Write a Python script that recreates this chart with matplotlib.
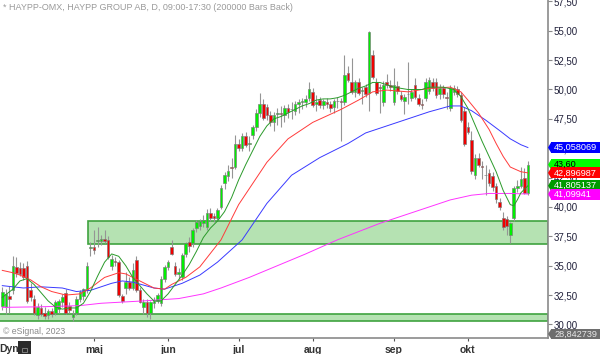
import numpy as np
import matplotlib
matplotlib.use("Agg")
import matplotlib.pyplot as plt
from matplotlib.patches import Rectangle, Polygon
from matplotlib.transforms import blended_transform_factory

plt.rcParams['font.family'] = ['Liberation Sans', 'DejaVu Sans']

# daily bars, late March -> 25 Oct 2023 (bar index 0..149)
opens = [31.6, 31.5, 32.4, 32.9, 34.9, 34.8, 34.8, 35.0, 32.9, 32.2,
         30.8, 31.4, 31.0, 30.8, 31.1, 31.0, 31.3, 31.9, 32.7, 31.6,
         30.6, 31.0, 32.2, 32.4, 32.9, 36.5, 36.6, 37.1, 37.1, 37.3,
         37.2, 35.0, 35.4, 35.3, 32.4, 33.1, 33.6, 33.1, 35.5, 32.9,
         31.5, 31.9, 31.0, 31.8, 32.0, 31.8, 33.9, 34.9, 36.6, 35.0,
         34.3, 34.0, 36.0, 37.0, 36.9, 38.2, 38.4, 38.6, 38.3, 39.5,
         39.2, 39.1, 40.0, 42.0, 42.6, 43.4, 43.4, 45.4, 45.0, 46.0,
         45.4, 46.1, 46.8, 48.0, 48.8, 48.5, 47.8, 47.2, 47.9, 48.0,
         47.8, 48.4, 48.3, 48.2, 48.8, 48.9, 48.9, 49.3, 49.8, 48.8,
         49.1, 48.7, 48.9, 48.8, 48.5, 49.0, 49.0, 48.9, 51.4, 50.6,
         49.8, 50.6, 49.9, 50.2, 49.7, 52.9, 50.6, 50.2, 48.9, 50.6,
         50.4, 48.9, 50.3, 49.5, 49.0, 49.6, 49.3, 50.4, 49.3, 48.8,
         49.3, 49.9, 50.6, 50.6, 49.6, 50.1, 49.4, 48.4, 49.8, 50.0,
         49.5, 48.2, 46.8, 45.7, 42.7, 44.2, 43.5, 42.7, 42.9, 42.6,
         41.8, 40.4, 39.1, 39.0, 37.6, 39.1, 41.6, 41.8, 42.5, 41.2]
highs = [33.2, 33.0, 33.3, 35.8, 35.7, 35.3, 35.2, 35.4, 33.5, 32.5,
         31.8, 31.7, 31.5, 31.3, 31.4, 32.1, 32.2, 32.6, 33.0, 31.9,
         31.2, 32.4, 32.9, 33.1, 35.3, 37.0, 38.0, 38.3, 37.6, 38.0,
         37.5, 35.9, 35.7, 35.5, 32.6, 34.5, 34.0, 35.2, 35.8, 33.2,
         32.2, 32.2, 32.0, 32.3, 32.7, 34.1, 35.1, 35.5, 37.2, 35.3,
         34.8, 36.1, 37.0, 37.4, 38.2, 38.9, 39.0, 39.3, 39.8, 39.9,
         39.5, 39.9, 41.9, 43.0, 43.6, 44.2, 46.1, 45.8, 46.3, 46.4,
         46.0, 47.0, 48.3, 49.7, 49.2, 48.8, 48.2, 48.1, 48.4, 48.6,
         48.7, 48.8, 48.9, 49.0, 49.2, 49.3, 49.5, 50.6, 50.1, 49.5,
         49.4, 49.2, 49.3, 49.0, 49.2, 49.4, 49.3, 52.9, 52.0, 52.7,
         50.8, 51.0, 50.2, 50.5, 55.0, 53.4, 51.0, 50.5, 50.7, 51.3,
         50.8, 51.8, 50.7, 49.9, 49.6, 52.3, 50.0, 51.0, 49.6, 49.2,
         51.0, 51.1, 51.0, 51.0, 50.5, 50.4, 49.8, 50.4, 50.4, 50.3,
         49.8, 48.5, 47.2, 46.5, 44.5, 44.6, 43.9, 43.6, 43.2, 43.0,
         42.0, 40.8, 39.6, 39.2, 38.7, 41.8, 42.3, 43.4, 43.3, 43.9]
lows = [31.2, 30.9, 31.0, 32.6, 34.0, 34.1, 33.8, 31.8, 32.0, 30.8,
        30.5, 30.7, 30.5, 30.5, 30.6, 30.8, 31.0, 31.5, 30.9, 31.0,
        30.3, 30.8, 31.9, 32.1, 32.7, 35.8, 36.0, 36.6, 36.8, 36.9,
        35.6, 34.6, 35.0, 32.3, 31.8, 32.6, 32.9, 32.9, 32.8, 31.8,
        30.9, 30.6, 30.5, 31.4, 31.8, 31.6, 33.6, 34.6, 35.9, 34.1,
        33.9, 33.8, 35.7, 36.2, 36.6, 37.9, 38.0, 38.3, 38.0, 38.8,
        38.7, 38.9, 39.8, 41.5, 42.2, 42.5, 43.2, 44.8, 44.8, 45.1,
        44.8, 45.8, 46.5, 47.7, 47.4, 47.4, 46.9, 46.5, 47.0, 46.8,
        47.2, 47.6, 47.5, 47.8, 48.0, 48.3, 48.5, 49.0, 48.5, 48.2,
        48.4, 48.3, 48.4, 48.1, 48.0, 48.4, 45.6, 48.7, 50.6, 49.6,
        49.4, 49.5, 48.8, 49.4, 48.2, 50.9, 49.5, 48.0, 48.6, 50.1,
        49.9, 48.7, 49.6, 49.0, 47.9, 48.8, 49.0, 49.2, 48.6, 48.3,
        49.0, 49.6, 49.9, 49.3, 49.2, 49.3, 48.3, 48.2, 49.5, 49.4,
        47.2, 45.2, 46.2, 42.8, 42.4, 43.4, 42.4, 41.0, 41.8, 41.4,
        40.3, 39.7, 38.0, 37.6, 36.9, 38.8, 41.3, 41.6, 41.1, 41.0]
closes = [32.8, 32.6, 32.2, 35.0, 34.4, 34.3, 34.0, 32.0, 32.3, 31.0,
          31.5, 30.9, 30.7, 31.1, 30.9, 31.9, 32.0, 32.3, 31.0, 31.2,
          30.9, 32.2, 32.8, 33.0, 35.0, 36.55, 36.3, 37.2, 37.3, 37.1,
          35.7, 35.6, 35.3, 32.5, 32.0, 33.6, 33.1, 34.6, 32.9, 31.9,
          31.9, 31.0, 31.9, 32.0, 32.5, 33.9, 34.9, 35.3, 36.0, 34.3,
          34.5, 35.9, 36.9, 36.7, 38.0, 38.7, 38.8, 38.9, 39.5, 39.1,
          39.1, 39.7, 41.6, 42.7, 43.1, 43.3, 45.4, 45.0, 46.0, 45.3,
          45.4, 46.8, 48.0, 48.8, 47.6, 47.8, 47.2, 47.8, 48.0, 47.9,
          48.4, 48.1, 48.3, 48.8, 48.9, 49.0, 49.2, 50.0, 48.7, 48.9,
          48.7, 49.0, 48.8, 48.4, 49.0, 49.0, 48.95, 51.2, 50.8, 49.8,
          50.6, 49.7, 49.9, 49.6, 54.9, 51.1, 49.7, 50.1, 50.4, 50.4,
          50.2, 50.4, 49.9, 49.2, 49.4, 49.6, 49.8, 49.4, 48.8, 48.7,
          50.6, 50.8, 50.1, 49.5, 50.1, 49.6, 49.3, 50.1, 50.1, 49.6,
          47.4, 45.4, 46.4, 43.1, 44.2, 43.6, 43.4, 42.7, 42.0, 41.7,
          40.7, 40.0, 38.3, 38.4, 38.6, 41.6, 41.8, 42.4, 41.2, 43.6]

month_pos = [26, 47, 67, 88, 111, 132]
month_labels = ['maj', 'jun', 'jul', 'aug', 'sep', 'okt']

# moving averages (bar index, price)
ma_green_x = [0, 3, 5, 7, 9, 11, 13, 15, 17, 19, 21, 23, 25, 27, 29, 31, 33, 35,
              37, 39, 41, 43, 45, 47, 49, 51, 53, 55, 57, 59, 61, 63, 65, 67, 69,
              71, 73, 75, 77, 79, 81, 83, 85, 87, 89, 91, 93, 95, 97, 99, 101, 103,
              105, 107, 109, 111, 115, 119, 121, 125, 128, 130, 132, 134, 136, 138,
              140, 142, 144, 145, 146, 147, 149]
ma_green_y = [32.3, 33.0, 33.7, 33.9, 33.4, 32.7, 32.0, 31.5, 31.3, 31.4, 31.4, 31.8,
              32.8, 34.1, 35.3, 36.0, 35.8, 35.0, 34.0, 33.3, 32.6, 32.0, 32.0, 32.6,
              33.4, 34.2, 35.1, 36.2, 37.4, 38.2, 38.8, 39.6, 40.8, 42.3, 43.6, 44.8,
              46.0, 46.9, 47.5, 47.7, 48.0, 48.3, 48.6, 48.8, 49.1, 49.2, 49.2, 49.3,
              49.5, 49.8, 50.1, 50.3, 50.6, 50.6, 50.4, 50.2, 50.0, 50.0, 50.2, 50.2,
              50.0, 49.4, 48.4, 47.0, 45.6, 44.3, 43.0, 41.4, 40.2, 40.1, 40.6, 41.2,
              41.8]
ma_red_x = [0, 3, 5, 8, 11, 14, 18, 22, 25, 29, 33, 35, 39, 43, 46, 48, 52, 56, 62,
            67, 75, 81, 88, 96, 101, 105, 109, 115, 121, 127, 130, 132, 135, 138,
            140, 142, 144, 147, 149]
ma_red_y = [34.6, 34.4, 34.2, 33.8, 33.2, 32.8, 32.5, 32.6, 33.1, 34.0, 34.4, 34.3,
            33.7, 33.1, 33.0, 33.4, 34.0, 34.9, 37.2, 40.2, 43.8, 45.8, 47.2, 48.3,
            49.1, 49.8, 49.95, 49.8, 50.1, 50.2, 49.8, 49.1, 48.0, 46.6, 45.4, 44.3,
            43.4, 43.0, 42.9]
ma_blue_x = [0, 6, 11, 17, 21, 25, 31, 34, 37, 43, 46, 51, 56, 61, 68, 75, 82, 90,
             98, 103, 109, 115, 121, 127, 130, 133, 137, 141, 144, 147, 149]
ma_blue_y = [33.3, 33.1, 33.2, 33.1, 32.8, 32.9, 33.5, 33.7, 33.6, 33.1, 33.0, 33.5,
             34.2, 35.3, 37.2, 40.3, 42.7, 44.2, 45.4, 46.3, 46.9, 47.5, 48.1, 48.6,
             48.6, 48.2, 47.4, 46.5, 45.8, 45.3, 45.06]
ma_mag_x = [0, 11, 22, 28, 34, 40, 45, 50, 57, 62, 70, 78, 86, 95, 101, 107, 113,
            120, 127, 133, 138, 144, 149]
ma_mag_y = [31.45, 31.5, 31.6, 31.8, 31.9, 32.0, 32.1, 32.2, 32.6, 33.1, 34.0, 35.0,
            36.0, 37.2, 37.9, 38.6, 39.2, 39.9, 40.6, 41.0, 41.15, 41.15, 41.1]

zone_upper = (36.82, 38.78)
zone_upper_start = 24.3
zone_lower = (30.26, 30.85)

last_texts = ['45,058069', '43,60', '42,896987', '41,805137', '41,09941']
last_values = [45.058069, 43.60, 42.896987, 41.805137, 41.09941]
last_colors = ['#0000ff', '#00ff00', '#ff0000', '#009a00', '#ff00ff']
last_txtcol = ['white', 'black', 'white', 'white', 'white']
bottom_value = 28.842739

ymin, ymax = bottom_value, 57.62
xmin, xmax = -0.65, 154.7

fig = plt.figure(figsize=(6, 3.54), dpi=100)
ax = fig.add_axes([0, 16 / 354, 548 / 600, 338 / 354])
ax.set_xlim(xmin, xmax)
ax.set_ylim(ymin, ymax)

# support / resistance zones
ax.add_patch(Rectangle((zone_upper_start, zone_upper[0]), xmax - zone_upper_start,
                       zone_upper[1] - zone_upper[0], fc='#b5e2b2', ec='#3fa33f', lw=1.2, zorder=1))
ax.add_patch(Rectangle((xmin - 1, zone_lower[0]), xmax - xmin + 1,
                       zone_lower[1] - zone_lower[0], fc='#b5e2b2', ec='#3fa33f', lw=1.2, zorder=1))

# candles
idx = np.arange(len(closes))
o = np.array(opens)
h = np.array(highs)
l = np.array(lows)
c = np.array(closes)
cols = np.where(c >= o, '#00f000', '#f00000')
ax.vlines(idx, l, h, color='#959595', lw=0.8, zorder=2)
ax.bar(idx, np.maximum(np.abs(c - o), 0.05), bottom=np.minimum(o, c), width=0.74,
       color=cols, edgecolor='#7a7a7a', linewidth=0.45, zorder=3)

# moving averages
ax.plot(ma_mag_x, ma_mag_y, color='#ff33ff', lw=0.7, zorder=4)
ax.plot(ma_blue_x, ma_blue_y, color='#3a3aff', lw=0.7, zorder=4)
ax.plot(ma_red_x, ma_red_y, color='#ff3b3b', lw=0.7, zorder=4)
ax.plot(ma_green_x, ma_green_y, color='#2a9a2a', lw=0.7, zorder=4)

# axes styling
for s in ['left', 'top']:
    ax.spines[s].set_visible(False)
for s in ['right', 'bottom']:
    ax.spines[s].set_color('#8a8a8a')
    ax.spines[s].set_linewidth(1.2)
ax.yaxis.tick_right()
yt = np.arange(30, 57.6, 2.5)
ax.set_yticks(yt)
ax.set_yticklabels([f"{v:.2f}".replace('.', ',') for v in yt])
ax.tick_params(axis='y', length=3, color='#8a8a8a', labelsize=7, labelcolor='#20203a', pad=1)
ax.set_xticks(month_pos)
ax.set_xticklabels(month_labels, fontweight='bold')
ax.tick_params(axis='x', length=2, color='#555555', labelsize=7.5, labelcolor='#333333', pad=3)

# last value labels on the price scale
tr = blended_transform_factory(ax.transAxes, ax.transData)
px = (ymax - ymin) / 338.0
x0 = 551 / 548
for v, t, fc, tc in zip(last_values, last_texts, last_colors, last_txtcol):
    ax.add_patch(Rectangle((x0, v - 5.5 * px), 50 / 548, 11 * px, transform=tr, fc=fc, ec='none',
                           clip_on=False, zorder=5))
    ax.add_patch(Polygon([(1.0, v), (x0 + 0.0005, v + 5.5 * px), (x0 + 0.0005, v - 5.5 * px)],
                         closed=True, transform=tr, fc=fc, ec='none', clip_on=False, zorder=5))
    ax.text(554 / 548, v, t, transform=tr, color=tc, fontsize=6.6, va='center', ha='left',
            clip_on=False, zorder=6)
vb = ymin + 4 * px
ax.add_patch(Rectangle((x0, vb - 5 * px), 50 / 548, 10 * px, transform=tr, fc='#6e6e6e', ec='none',
                       clip_on=False, zorder=5))
ax.add_patch(Polygon([(1.0, vb), (x0 + 0.0005, vb + 5 * px), (x0 + 0.0005, vb - 5 * px)], closed=True,
                     transform=tr, fc='#6e6e6e', ec='none', clip_on=False, zorder=5))
ax.text(554 / 548, vb, f"{bottom_value:.6f}".replace('.', ','), transform=tr, color='#e8e8e8',
        fontsize=6.6, va='center', ha='left', clip_on=False, zorder=6)

fig.text(3 / 600, 1 - 8 / 354, '* HAYPP-OMX, HAYPP GROUP AB, D, 09:00-17:30 (200000 Bars Back)',
         fontsize=6.5, color='#9a9a9a', va='center', ha='left')
fig.text(3 / 600, 1 - 332 / 354, '\u00a9 eSignal, 2023', fontsize=6.3, color='#8a8a8a',
         va='center', ha='left')
fig.text(-1 / 600, 1 - 349 / 354, 'Dyn', fontsize=7.5, fontweight='bold', color='#333333',
         va='center', ha='left')
fig.patches.append(Rectangle((18 / 600, 0), 13 / 600, 13 / 354, transform=fig.transFigure,
                             fc='#2b2b2b', ec='none'))
fig.patches.append(Rectangle((22 / 600, 2 / 354), 5 / 600, 4 / 354, transform=fig.transFigure,
                             fc='none', ec='#8a8a8a', lw=0.6))

fig.savefig('out.png', dpi=100)
